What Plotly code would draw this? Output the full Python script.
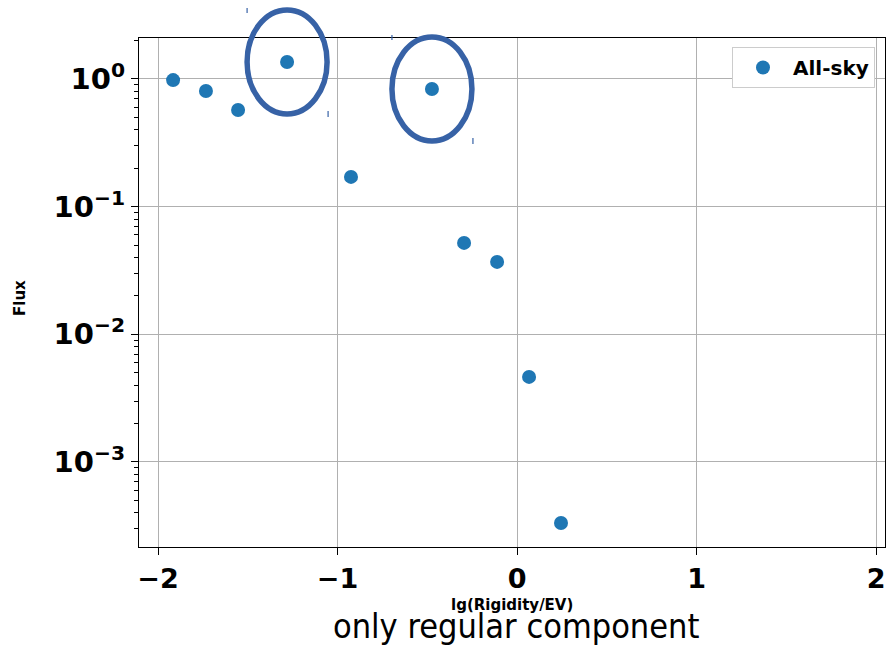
import numpy as np
import plotly.graph_objects as go

# Flux versus log10 rigidity, all-sky sample
lg_rigidity = [-1.916, -1.733, -1.554, -1.281, -0.925, -0.474, -0.295, -0.111, 0.067, 0.245]
flux = [0.98, 0.805, 0.572, 1.36, 0.171, 0.835, 0.052, 0.0369, 0.00464, 0.000333]
circled_points = [3, 5]

x_tick_vals = [-2, -1, 0, 1, 2]
y_tick_vals = [1e-3, 1e-2, 1e-1, 1.0]
y_tick_text = ["10<sup>−3</sup>", "10<sup>−2</sup>", "10<sup>−1</sup>", "10<sup>0</sup>"]

W, H = 891, 647
M_L, M_R, M_T, M_B = 139, 6, 38, 100
PLOT_W = W - M_L - M_R
PLOT_H = H - M_T - M_B
X_RANGE = [-2.106, 2.05]
Y_RANGE = [-3.666, 0.321]  # log10 units

MARK_BLUE = "#1f77b4"
RING_BLUE = "#3762a6"
GRID = "#b0b0b0"


def to_paper(x, y):
    px = (x - X_RANGE[0]) / (X_RANGE[1] - X_RANGE[0])
    py = (np.log10(y) - Y_RANGE[0]) / (Y_RANGE[1] - Y_RANGE[0])
    return px, py


def px_w(n):
    return n / PLOT_W


def px_h(n):
    return n / PLOT_H


minor_vals = [k * 10.0 ** e for e in range(-4, 1) for k in range(2, 10)
              if Y_RANGE[0] <= np.log10(k * 10.0 ** e) <= Y_RANGE[1]]

fig = go.Figure()
fig.add_trace(go.Scatter(
    x=lg_rigidity, y=flux, mode="markers", name="All-sky",
    marker=dict(color=MARK_BLUE, size=14, line=dict(width=0)),
))

shapes = []
for i in circled_points:
    cx, cy = to_paper(lg_rigidity[i], flux[i])
    rx, ry = px_w(40), px_h(52)
    shapes.append(dict(
        type="circle", xref="paper", yref="paper",
        x0=cx - rx, x1=cx + rx, y0=cy - ry, y1=cy + ry,
        line=dict(color=RING_BLUE, width=5.5), layer="above",
    ))
    # small handle marks at the ring's bounding-box corners
    for sx, sy0, sy1 in [(-40, 49, 54), (41, -55, -49)]:
        shapes.append(dict(
            type="line", xref="paper", yref="paper",
            x0=cx + px_w(sx), x1=cx + px_w(sx),
            y0=cy + px_h(sy0), y1=cy + px_h(sy1),
            line=dict(color=RING_BLUE, width=1.2), layer="above",
        ))

annotations = [
    dict(text="<b>lg(Rigidity/EV)</b>", xref="paper", yref="paper",
         x=(512 - M_L) / PLOT_W, y=-px_h(605 - (H - M_B)), xanchor="center", yanchor="middle",
         showarrow=False, font=dict(family="DejaVu Sans", size=15, color="black")),
    dict(text="only regular component", xref="paper", yref="paper",
         x=(516 - M_L) / PLOT_W, y=-px_h(626 - (H - M_B)), xanchor="center", yanchor="middle",
         showarrow=False,
         font=dict(family="DejaVu Sans Condensed", size=34, color="black")),
    dict(text="<b>Flux</b>", xref="paper", yref="paper",
         x=-px_w(M_L - 20), y=px_h(H - M_B - 298), xanchor="center", yanchor="middle",
         textangle=-90, showarrow=False,
         font=dict(family="DejaVu Sans", size=15, color="black")),
]

fig.update_layout(
    width=W, height=H,
    margin=dict(l=M_L, r=M_R, t=M_T, b=M_B),
    paper_bgcolor="white", plot_bgcolor="white",
    showlegend=True,
    legend=dict(
        x=(875 - M_L) / PLOT_W, y=1 - px_h(47 - M_T), xanchor="right", yanchor="top",
        bgcolor="white", bordercolor="#cccccc", borderwidth=1, itemwidth=50,
        font=dict(family="DejaVu Sans", size=20, color="black", weight="bold"),
    ),
    shapes=shapes,
    annotations=annotations,
)

fig.update_xaxes(
    range=X_RANGE, tickvals=x_tick_vals,
    showgrid=True, gridcolor=GRID, gridwidth=1.3, zeroline=False,
    showline=True, linecolor="black", linewidth=1.3, mirror=True,
    ticks="outside", ticklen=7, tickwidth=1.3, tickcolor="black",
    tickfont=dict(family="DejaVu Sans", size=27, color="black", weight="bold"),
)
fig.update_yaxes(
    type="log", range=Y_RANGE, tickvals=y_tick_vals, ticktext=y_tick_text,
    showgrid=True, gridcolor=GRID, gridwidth=1.3, zeroline=False,
    showline=True, linecolor="black", linewidth=1.3, mirror=True,
    ticks="outside", ticklen=7, tickwidth=1.3, tickcolor="black",
    tickfont=dict(family="DejaVu Sans", size=29, color="black", weight="bold"),
    minor=dict(tickvals=minor_vals, ticks="outside", ticklen=4, tickwidth=1,
               tickcolor="black", showgrid=False),
)

fig.write_html("out.html")
